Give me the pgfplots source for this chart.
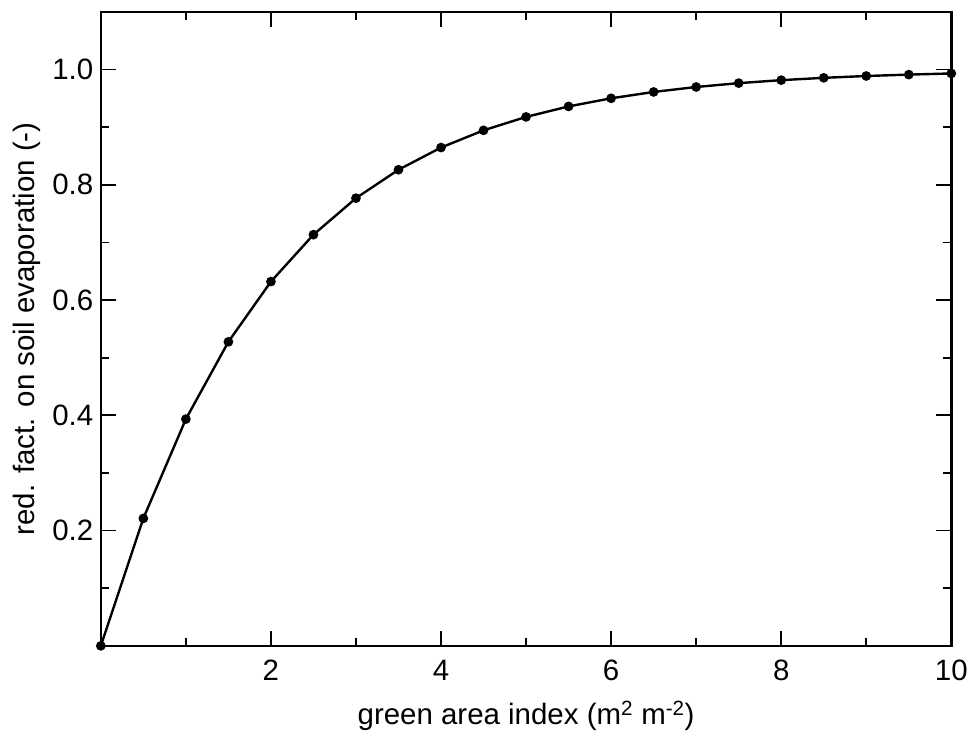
\documentclass[border=0pt]{standalone}
\usepackage{pgfplots}
\pgfplotsset{compat=1.18}
\usepackage{fontspec}
\setmainfont{Liberation Sans}
\begin{document}
\begin{tikzpicture}
\begin{axis}[
  scale only axis,
  width=852pt, height=635pt,
  xmin=0, xmax=10, ymin=0, ymax=1.1,
  xtick={2,4,6,8,10},
  ytick={0.2,0.4,0.6,0.8,1.0},
  minor xtick={1,3,5,7,9},
  minor ytick={0.1,0.3,0.5,0.7,0.9},
  tick align=inside,
  major tick length=15pt,
  minor tick length=8pt,
  tick style={line width=1.8pt, black},
  axis line style={line width=2.5pt},
  /pgf/number format/assume math mode=true,
  yticklabel style={/pgf/number format/fixed, /pgf/number format/fixed zerofill, /pgf/number format/precision=1, xshift=-4pt},
  xticklabel style={yshift=-11pt},
  ticklabel style={font=\fontsize{29.5}{34}\selectfont},
  label style={font=\fontsize{29.5}{34}\selectfont},
  xlabel={green area index (m\textsuperscript{2} m\textsuperscript{-2})},
  ylabel={red. fact. on soil evaporation (-)},
  xlabel style={yshift=-13pt},
  ylabel style={yshift=5pt},
  clip=false,
]
\addplot[black, line width=2.4pt, mark=*, mark size=3.6pt] coordinates {
(0,0) (0.5,0.2212) (1,0.3935) (1.5,0.5276) (2,0.6321) (2.5,0.7135)
(3,0.7769) (3.5,0.8262) (4,0.8647) (4.5,0.8946) (5,0.9179) (5.5,0.9361)
(6,0.9502) (6.5,0.9612) (7,0.9698) (7.5,0.9765) (8,0.9817) (8.5,0.9857)
(9,0.9889) (9.5,0.9913) (10,0.9933)
};
\end{axis}
\path ([xshift=-101pt,yshift=-79pt]current axis.south west) rectangle ([xshift=18pt,yshift=12pt]current axis.north east);
\end{tikzpicture}
\end{document}
